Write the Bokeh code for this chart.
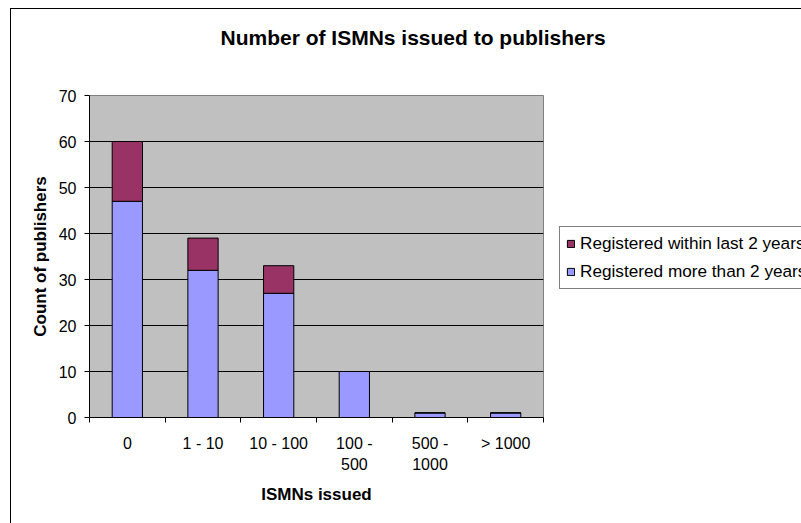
from bokeh.plotting import figure
from bokeh.models import (Range1d, FixedTicker, Legend, LegendItem,
                          ColumnDataSource, InlineStyleSheet)
from bokeh.embed import file_html
from bokeh.resources import INLINE

# ---- data ----
categories = ["0", "1 - 10", "10 - 100", "100 -\n500", "500 -\n1000", "> 1000"]
registered_older = [47, 32, 27, 10, 1, 1]
registered_recent = [13, 7, 6, 0, 0, 0]
y_ticks = [0, 10, 20, 30, 40, 50, 60, 70]
label_older = "Registered more than 2 years"
label_recent = "Registered within last 2 years"
title_text = "Number of ISMNs issued to publishers"
x_title = "ISMNs issued"
y_title = "Count of publishers"

FONT = "Liberation Sans"
BLUE = "#9999FF"
MAROON = "#993366"

n = len(categories)
xpos = [i + 0.5 for i in range(n)]
src = ColumnDataSource(dict(x=xpos, older=registered_older, recent=registered_recent))

p = figure(frame_width=454, frame_height=322,
           x_range=Range1d(0, n), y_range=Range1d(0, y_ticks[-1]),
           output_backend="svg", toolbar_location=None,
           min_border_left=89, min_border_right=258,
           min_border_top=95, min_border_bottom=106,
           background_fill_color="#C0C0C0", border_fill_color="white")
p.outline_line_color = "#808080"
p.outline_line_width = 1

rs = p.vbar_stack(["older", "recent"], x="x", width=0.4, source=src,
                  fill_color=[BLUE, MAROON], line_color="black", line_width=1)

# grid (top edge is the grey plot-area border)
p.xgrid.visible = False
p.ygrid.ticker = FixedTicker(ticks=y_ticks[:-1])
p.ygrid.grid_line_color = "black"
p.ygrid.grid_line_alpha = 1.0
p.ygrid.grid_line_width = 1

# y axis
ya = p.yaxis[0]
ya.ticker = FixedTicker(ticks=y_ticks, minor_ticks=[])
ya.major_tick_in = 0
ya.major_tick_out = 5
ya.minor_tick_in = 0
ya.minor_tick_out = 0
ya.axis_line_color = "black"
ya.major_tick_line_color = "black"
ya.major_label_text_font = FONT
ya.major_label_text_font_size = "16px"
ya.major_label_text_color = "black"
ya.major_label_standoff = 8
ya.axis_label = y_title
ya.axis_label_text_font = FONT
ya.axis_label_text_font_size = "17px"
ya.axis_label_text_font_style = "bold"
ya.axis_label_text_color = "black"
ya.axis_label_standoff = 6

# x axis: labels at centres, ticks at category boundaries
xa = p.xaxis[0]
xa.ticker = FixedTicker(ticks=xpos, minor_ticks=list(range(n + 1)))
xa.major_tick_in = 0
xa.major_tick_out = 0
xa.minor_tick_in = 0
xa.minor_tick_out = 5
xa.minor_tick_line_color = "black"
xa.axis_line_color = "black"
xa.major_label_overrides = {xv: c for xv, c in zip(xpos, categories)}
xa.major_label_text_font = FONT
xa.major_label_text_font_size = "16px"
xa.major_label_text_color = "black"
xa.major_label_text_line_height = 1.25
xa.major_label_standoff = 12
xa.axis_label = x_title
xa.axis_label_text_font = FONT
xa.axis_label_text_font_size = "17px"
xa.axis_label_text_font_style = "bold"
xa.axis_label_text_color = "black"
xa.axis_label_standoff = 9

# title
p.title.text = title_text
p.title.align = "left"
p.title.offset = 131
p.title.text_font = FONT
p.title.text_font_size = "21px"
p.title.text_font_style = "bold"
p.title.text_color = "black"
p.title.standoff = 0
p.title.padding = dict(left=0, right=0, top=0, bottom=47)

# legend (right side panel)
legend = Legend(items=[LegendItem(label=label_recent, renderers=[rs[1]]),
                       LegendItem(label=label_older, renderers=[rs[0]])],
                location=(16, 128), orientation="vertical",
                glyph_width=9, glyph_height=9, label_standoff=5,
                label_height=17, spacing=7, padding=6, margin=0,
                label_text_font=FONT, label_text_font_size="17.2px",
                label_text_color="black",
                border_line_color="black", border_line_width=1,
                background_fill_color="white", background_fill_alpha=1.0)
p.add_layout(legend, "right")

# outer chart-area border (left and top edges; right/bottom lie beyond the window)
p.stylesheets = [InlineStyleSheet(css=(
    ":host::after { content: ''; position: absolute; left: 10px; top: 8px; "
    "right: 0; bottom: 0; border-left: 1px solid black; border-top: 1px solid black; "
    "pointer-events: none; z-index: 10; }"))]

open("out.html", "w").write(file_html(p, INLINE))
